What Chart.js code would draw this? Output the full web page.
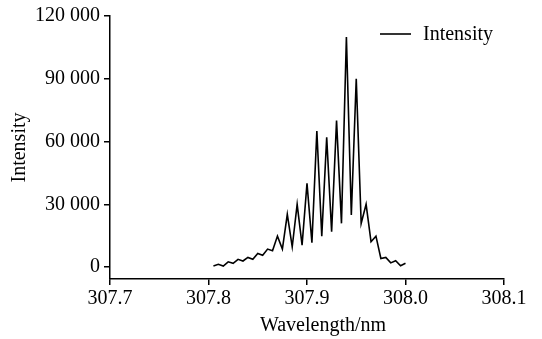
<!DOCTYPE html>
<html>
<head>
<meta charset="utf-8">
<script src="https://cdn.jsdelivr.net/npm/chart.js@4/dist/chart.umd.min.js"></script>
<style>
  html, body { margin: 0; padding: 0; background: #fff; }
  #wrap { width: 542px; height: 339px; }
</style>
</head>
<body>
<div id="wrap"><canvas id="myChart" width="542" height="339"></canvas></div>
<script>
// wavelength (nm) of each sample
const wavelengths = [
  307.805, 307.810, 307.815, 307.820, 307.825, 307.830, 307.835, 307.840,
  307.845, 307.850, 307.855, 307.860, 307.865, 307.870, 307.875, 307.880,
  307.885, 307.890, 307.895, 307.900, 307.905, 307.910, 307.915, 307.920,
  307.925, 307.930, 307.935, 307.940, 307.945, 307.950, 307.955, 307.960,
  307.965, 307.970, 307.975, 307.980, 307.985, 307.990, 307.995, 308.000
];
// intensity
const intensity = [
  500, 1300, 500, 2500, 1800, 3700, 2900, 4600,
  3700, 6500, 5600, 8600, 7800, 14800, 8600, 25200,
  9700, 30000, 10500, 40000, 11600, 65000, 14800, 62000,
  16900, 70000, 20900, 110000, 24900, 90000, 20900, 30000,
  12100, 14800, 4100, 4600, 2000, 3000, 600, 1800
];
const xTicks = [307.7, 307.8, 307.9, 308.0, 308.1];
const yTicks = [0, 30000, 60000, 90000, 120000];
const xTitle = 'Wavelength/nm';

const serif = 'Liberation Serif, Times New Roman, serif';
Chart.defaults.font.family = serif;
Chart.defaults.color = '#000';

const points = wavelengths.map((w, i) => ({ x: w, y: intensity[i] }));

// legend inside the plot (top right) and the x title, a bit right of centre like the original
const extras = {
  id: 'extras',
  afterDraw(chart) {
    const ctx = chart.ctx;
    const area = chart.chartArea;
    const ds = chart.data.datasets[0];
    const y = area.top + 18;
    const x0 = area.right - 124;
    ctx.save();
    ctx.strokeStyle = ds.borderColor;
    ctx.lineWidth = 1.6;
    ctx.beginPath();
    ctx.moveTo(x0, y);
    ctx.lineTo(x0 + 31, y);
    ctx.stroke();
    ctx.fillStyle = '#000';
    ctx.font = '20px ' + serif;
    ctx.textBaseline = 'middle';
    ctx.fillText(ds.label, x0 + 43, y + 1);

    ctx.textAlign = 'center';
    ctx.fillText(xTitle, (area.left + area.right) / 2 + 16, area.bottom + 47);
    ctx.restore();
  }
};

new Chart(document.getElementById('myChart').getContext('2d'), {
  type: 'line',
  data: {
    datasets: [{
      label: 'Intensity',
      data: points,
      borderColor: '#000',
      backgroundColor: '#000',
      borderWidth: 1.6,
      pointRadius: 0,
      tension: 0,
      fill: false
    }]
  },
  plugins: [extras],
  options: {
    responsive: false,
    animation: false,
    devicePixelRatio: 1,
    layout: { padding: { top: 16, right: 38, left: 0, bottom: 0 } },
    plugins: {
      tooltip: { enabled: false },
      legend: { display: false }
    },
    scales: {
      x: {
        type: 'linear',
        min: 307.7,
        max: 308.1,
        afterBuildTicks: s => { s.ticks = xTicks.map(v => ({ value: v })); },
        afterFit: s => { s.height = 60; },
        ticks: {
          color: '#000',
          font: { size: 20, family: serif },
          padding: 2,
          maxRotation: 0,
          callback: v => Number(v).toFixed(1)
        },
        grid: { drawOnChartArea: false, drawTicks: true, tickLength: 6, color: '#000', lineWidth: 1.5 },
        border: { display: true, color: '#000', width: 1.5 }
      },
      y: {
        min: -5700,
        max: 120000,
        afterBuildTicks: s => { s.ticks = yTicks.map(v => ({ value: v })); },
        afterFit: s => { s.width = 110; },
        ticks: {
          color: '#000',
          font: { size: 20, family: serif },
          padding: 4,
          callback: v => String(v).replace(/\B(?=(\d{3})+(?!\d))/g, ' ')
        },
        grid: { drawOnChartArea: false, drawTicks: true, tickLength: 6, color: '#000', lineWidth: 1.5 },
        border: { display: true, color: '#000', width: 1.5 },
        title: {
          display: true,
          text: 'Intensity',
          color: '#000',
          font: { size: 20, family: serif },
          padding: { top: 8, bottom: 0 }
        }
      }
    }
  }
});
</script>
</body>
</html>
